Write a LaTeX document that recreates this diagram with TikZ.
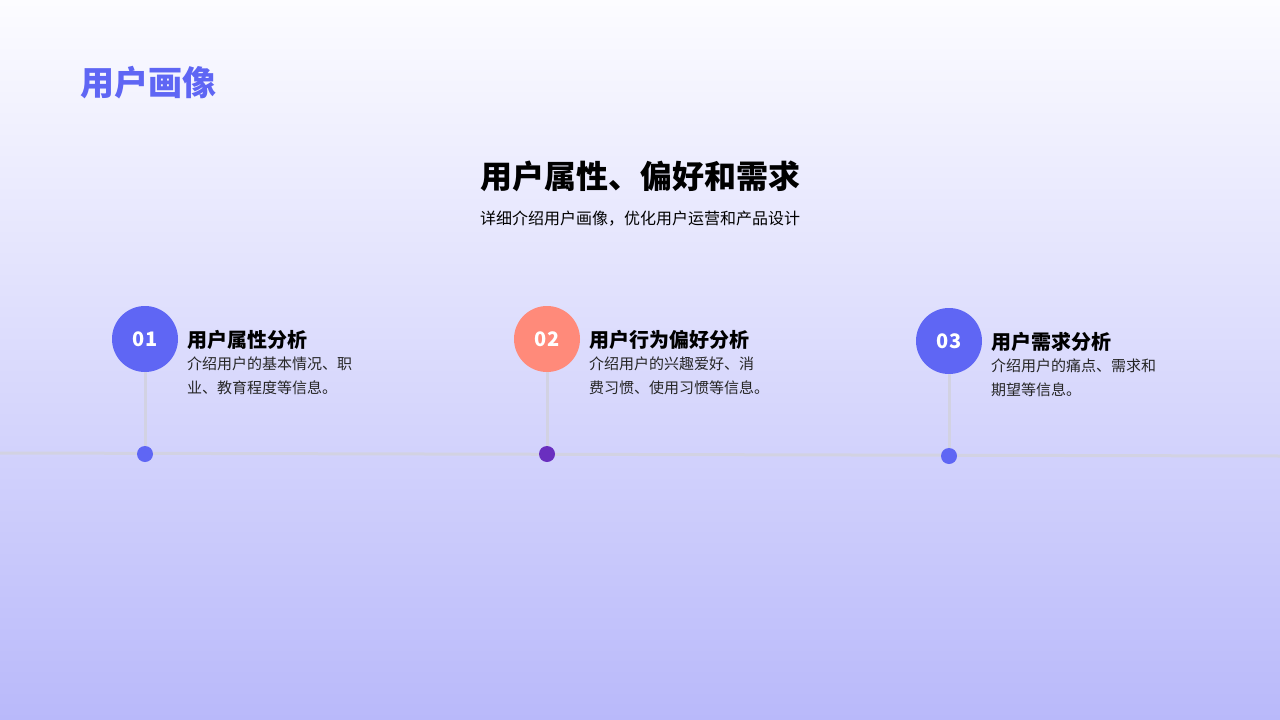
\documentclass[tikz,border=0pt]{standalone}
\usepackage{fontspec}
\setmainfont{Noto Sans CJK SC}
\definecolor{accent}{HTML}{5F66F4}
\definecolor{coral}{HTML}{FF8A7A}
\definecolor{purp}{HTML}{6A2FBF}
\definecolor{linegray}{HTML}{D2D2E2}
\definecolor{bgtop}{HTML}{FCFCFF}
\definecolor{bgbot}{HTML}{B9B9FA}
\begin{document}
\begin{tikzpicture}[x=1pt,y=-1pt,
  numc/.style={circle,minimum size=66pt,inner sep=0pt,text=white,font=\bfseries\fontsize{20}{20}\selectfont},
  dotc/.style={circle,minimum size=16pt,inner sep=0pt},
  ttl/.style={anchor=west,inner sep=0pt,font=\bfseries\fontsize{20}{20}\selectfont},
  desc/.style={anchor=north west,inner sep=0pt,align=left,font=\fontsize{15}{24}\selectfont,text=black!85},
  stem/.style={draw=linegray,line width=3pt}]
\shade[top color=bgtop,bottom color=bgbot] (0,0) rectangle (1280,720);
\useasboundingbox (0,0) rectangle (1280,720);
\node[anchor=west,inner sep=0pt,text=accent,font=\bfseries\fontsize{34}{34}\selectfont] (hdr) at (80,83) {用户画像};
\node[inner sep=0pt,font=\bfseries\fontsize{32}{32}\selectfont] (title) at (640,176) {用户属性、偏好和需求};
\node[inner sep=0pt,font=\fontsize{16}{16}\selectfont] (sub) at (640,219) {详细介绍用户画像，优化用户运营和产品设计};
\coordinate (l0) at (0,453);
\coordinate (l1) at (1280,456);
\draw[stem] (l0) -- (l1);
\foreach \i/\x/\y/\c/\dc in {1/145/339/accent/accent,2/547/339/coral/purp,3/949/341/accent/accent}{
  \node[dotc,fill=\dc] (d\i) at (\x,\y+115) {};
  \node[numc,fill=\c] (n\i) at (\x,\y) {0\i};
  \draw[stem] (n\i.south) -- (d\i.north);
}
\node[ttl] (t1) at (187,340) {用户属性分析};
\node[desc] (s1) at (187,357) {介绍用户的基本情况、职\\业、教育程度等信息。};
\node[ttl] (t2) at (589,340) {用户行为偏好分析};
\node[desc] (s2) at (589,357) {介绍用户的兴趣爱好、消\\费习惯、使用习惯等信息。};
\node[ttl] (t3) at (991,342) {用户需求分析};
\node[desc] (s3) at (991,359) {介绍用户的痛点、需求和\\期望等信息。};
\end{tikzpicture}
\end{document}
